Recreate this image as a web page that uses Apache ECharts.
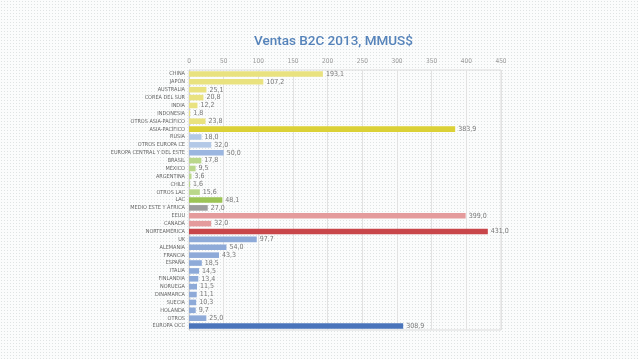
<!DOCTYPE html>
<html>
<head>
<meta charset="utf-8">
<script src="https://cdn.jsdelivr.net/npm/echarts@6/dist/echarts.min.js"></script>
<style>
html,body{margin:0;padding:0;width:638px;height:359px;overflow:hidden;}
body{background-color:#fbfcfc;background-image:radial-gradient(#dfe3e3 0.7px, transparent 0.9px);background-size:3px 3px;}
#c{width:638px;height:359px;}
</style>
</head>
<body>
<div id="c"></div>
<script>
// ---- data ----
var categories = ['CHINA','JAPÓN','AUSTRALIA','COREA DEL SUR','INDIA','INDONESIA','OTROS ASIA-PACÍFICO','ASIA-PACÍFICO',
  'RUSIA','OTROS EUROPA CE','EUROPA CENTRAL Y DEL ESTE',
  'BRASIL','MÉXICO','ARGENTINA','CHILE','OTROS LAC','LAC',
  'MEDIO ESTE Y ÁFRICA',
  'EEUU','CANADÁ','NORTEAMÉRICA',
  'UK','ALEMANIA','FRANCIA','ESPAÑA','ITALIA','FINLANDIA','NORUEGA','DINAMARCA','SUECIA','HOLANDA','OTROS','EUROPA OCC'];
var values = [193.1,107.2,25.1,20.8,12.2,1.8,23.8,383.9,
  18.0,32.0,50.0,
  17.8,9.5,3.6,1.6,15.6,48.1,
  27.0,
  399.0,32.0,431.0,
  97.7,54.0,43.3,18.5,14.5,13.4,11.5,11.1,10.3,9.7,25.0,308.9];
var regions = ['asia','asia','asia','asia','asia','asia','asia','asia',
  'eurce','eurce','eurce',
  'lac','lac','lac','lac','lac','lac',
  'mea',
  'na','na','na',
  'euro','euro','euro','euro','euro','euro','euro','euro','euro','euro','euro','euro'];
var totals = ['ASIA-PACÍFICO','EUROPA CENTRAL Y DEL ESTE','LAC','MEDIO ESTE Y ÁFRICA','NORTEAMÉRICA','EUROPA OCC'];
var xTicks = [0,50,100,150,200,250,300,350,400,450];

// ---- style ----
var colorLight = {asia:'#e9e27f', eurce:'#b3c9e7', lac:'#bad78b', mea:'#9c9c9c', na:'#e49b9c', euro:'#8eaad8'};
var colorTotal = {asia:'#dbd136', eurce:'#9bb6e0', lac:'#9cc455', mea:'#9c9c9c', na:'#c8464a', euro:'#4a74bb'};

var seriesData = values.map(function(v,i){
  var isT = totals.indexOf(categories[i]) >= 0;
  return {value:v, itemStyle:{color: isT ? colorTotal[regions[i]] : colorLight[regions[i]]}};
});

var chart = echarts.init(document.getElementById('c'), null, {renderer:'canvas'});
var lblFont = '"Liberation Sans Narrow","DejaVu Sans Condensed","Liberation Sans",sans-serif';
chart.setOption({
  backgroundColor:'transparent',
  animation:false,
  title:{
    text:'Ventas B2C 2013, MMUS$',
    left:249, top:30,
    textStyle:{color:'#5583ba', fontSize:13.5, fontWeight:500, fontFamily:'Roboto, sans-serif'}
  },
  grid:{left:189, right:137, top:70, bottom:29, containLabel:false,
        show:true, borderColor:'#dcdcdc', borderWidth:1},
  xAxis:{
    type:'value', position:'top', min:0, max:450, interval:50,
    axisLine:{show:false}, axisTick:{show:false},
    axisLabel:{color:'#999', fontSize:6.5, margin:5, fontFamily:lblFont,
      formatter:function(v){ return xTicks.indexOf(v)>=0 ? String(v) : ''; }},
    splitLine:{show:true, lineStyle:{color:'#e2e2e2', width:1}}
  },
  yAxis:{
    type:'category', inverse:true, data:categories,
    axisLine:{show:true, lineStyle:{color:'#cfcfcf'}}, axisTick:{show:false},
    axisLabel:{color:'#666', fontSize:5.5, margin:4, fontFamily:lblFont, interval:0}
  },
  series:[{
    type:'bar', data:seriesData, barWidth:5.6,
    label:{show:true, position:'right', distance:3, color:'#777', fontSize:7, fontFamily:lblFont,
      formatter:function(p){ return p.value.toFixed(1).replace('.', ','); }}
  }]
});
</script>
</body>
</html>
